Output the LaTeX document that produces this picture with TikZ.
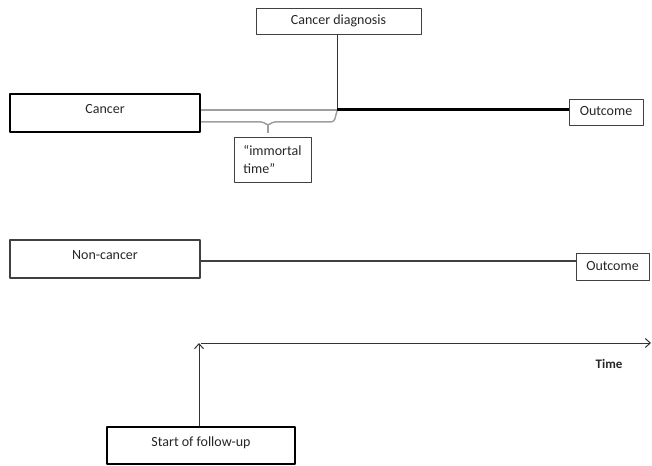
\documentclass[tikz,border=0pt]{standalone}
\usepackage{fontspec}
\setmainfont{Carlito}
\usepackage{xcolor}
\usepackage{tikz}
\usetikzlibrary{arrows.meta,calc}

\begin{document}
\begin{tikzpicture}[x=1pt,y=-1pt,>={Straight Barb[length=5pt,width=9pt]},line join=round,
  every node/.style={font=\fontsize{14}{18}\selectfont,text=black!85},
  groupbox/.style={draw=black,line width=2.4pt,inner sep=0pt,text height=9.5pt,text depth=8pt},
  eventbox/.style={draw=black!75,line width=0.8pt,inner sep=0pt,text height=9.5pt,text depth=2.5pt},
  notebox/.style={draw=black!75,line width=0.8pt,inner sep=0pt,align=left}]
  \useasboundingbox (0,0) rectangle (652,465);
  % exposure groups
  \node[groupbox,minimum width=190pt,minimum height=38pt] (cancer) at (105.0,113.0) {Cancer};
  \node[groupbox,draw=black!75,line width=2pt,minimum width=190pt,minimum height=38pt] (noncancer) at (105.0,258.5) {Non-cancer};
  \node[groupbox,line width=2pt,minimum width=188pt,minimum height=37pt] (start) at (201.0,445.5) {Start of follow-up};
  % events
  \node[eventbox,minimum width=165pt,minimum height=26pt] (diag) at (338.5,21.0) {Cancer diagnosis};
  \node[eventbox,minimum width=74pt,minimum height=26pt] (outc1) at (606.0,112.0) {Outcome};
  \node[eventbox,minimum width=73pt,minimum height=27pt] (outc2) at (612.5,266.5) {Outcome};
  \node[notebox,minimum width=77pt,minimum height=45pt] (immortal) at (272.5,159.5) {``immortal\\time''};
  \node[font=\fontsize{13}{16}\selectfont\bfseries] (time) at (609.0,364.0) {Time};
  \coordinate (dx) at (337.0,110.0);
  \coordinate (nl) at (0.0,261.0);
  \coordinate (t0) at (199.0,343.0);
  \coordinate (tend) at (651.0,343.0);
  % lines
  \draw[line width=0.9pt,black!80] (diag.south -| dx) -- (dx);
  \draw[line width=1.5pt,gray!75] (cancer.east |- dx) -- (dx);
  \draw[line width=3pt] (dx) -- (outc1.west |- dx);
  \draw[line width=1.5pt,gray!75,rounded corners=3pt]
    (cancer.east |- 0,122) -- (264.0,122.0) -- (268.0,126.0) -- (272.0,122.0) -- (334.0,122.0) -- (337.0,111.0);
  \draw[line width=1.5pt,gray!75] (268.0,125.0) -- (268.0,133.0);
  \draw[line width=1.5pt,black!75] (noncancer.east |- nl) -- (outc2.west |- nl);
  % time axis
  \draw[->,line width=1pt,black!80] (start.north -| t0) -- (t0);
  \draw[->,line width=1pt,black!80] (201.0,343.0) -- (tend);
\end{tikzpicture}
\end{document}
